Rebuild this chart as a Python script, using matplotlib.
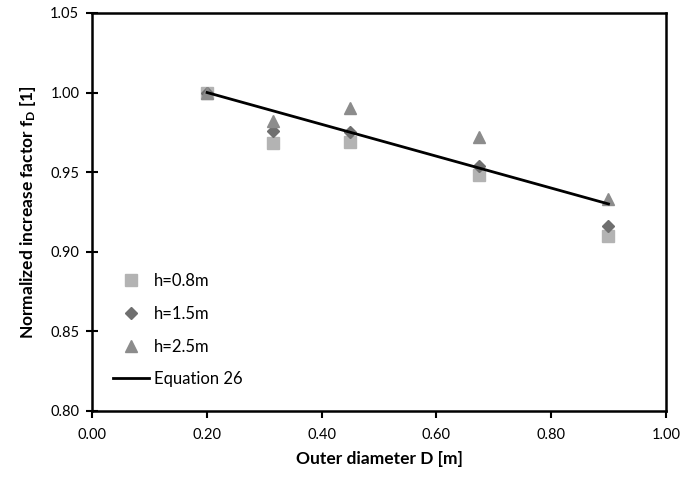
import matplotlib
matplotlib.use("Agg")
import matplotlib.pyplot as plt

plt.rcParams['font.family'] = ['Lato', 'DejaVu Sans']
plt.rcParams['mathtext.fontset'] = 'custom'
plt.rcParams['mathtext.rm'] = 'Lato:bold'
plt.rcParams['mathtext.it'] = 'Lato:bold'

diameter = [0.2, 0.315, 0.45, 0.675, 0.9]
f_h08 = [1.000, 0.968, 0.969, 0.948, 0.910]
f_h15 = [1.000, 0.976, 0.975, 0.954, 0.916]
f_h25 = [1.000, 0.982, 0.990, 0.972, 0.933]
eq_d = [0.2, 0.9]
eq_f = [1.000, 0.930]

fig = plt.figure(figsize=(6.85, 4.8), dpi=100)
ax = fig.add_axes([0.135, 0.144, 0.837, 0.829])

ax.plot(diameter, f_h08, 's', color='#b3b3b3', ms=8, label='h=0.8m')
ax.plot(diameter, f_h15, 'D', color='#6f6f6f', ms=6.5, label='h=1.5m')
ax.plot(diameter, f_h25, '^', color='#8c8c8c', ms=8.5, label='h=2.5m')
ax.plot(eq_d, eq_f, '-', color='black', lw=2, label='Equation 26')

ax.set_xlim(0, 1.0)
ax.set_ylim(0.80, 1.05)
ax.set_xticks([0, 0.2, 0.4, 0.6, 0.8, 1.0])
ax.set_yticks([0.80, 0.85, 0.90, 0.95, 1.00, 1.05])
ax.xaxis.set_major_formatter(matplotlib.ticker.FormatStrFormatter('%.2f'))
ax.yaxis.set_major_formatter(matplotlib.ticker.FormatStrFormatter('%.2f'))
ax.tick_params(axis='x', direction='out', length=5, width=1.5, labelsize=10.5, pad=7)
ax.tick_params(axis='y', direction='inout', length=9, width=1.5, labelsize=10.5, pad=5)
for s in ax.spines.values():
    s.set_linewidth(1.8)

ax.set_xlabel('Outer diameter D [m]', fontsize=12.5, fontweight='bold', labelpad=7)
ax.set_ylabel('Normalized increase factor f$_\\mathrm{D}$ [1]', fontsize=12.5, fontweight='bold', labelpad=9)

ax.legend(loc='lower left', bbox_to_anchor=(0.015, 0.03), frameon=False, fontsize=12,
          handlelength=2.2, handletextpad=0.25, labelspacing=1.0, borderaxespad=0.3)

fig.savefig('out.png', dpi=100)
